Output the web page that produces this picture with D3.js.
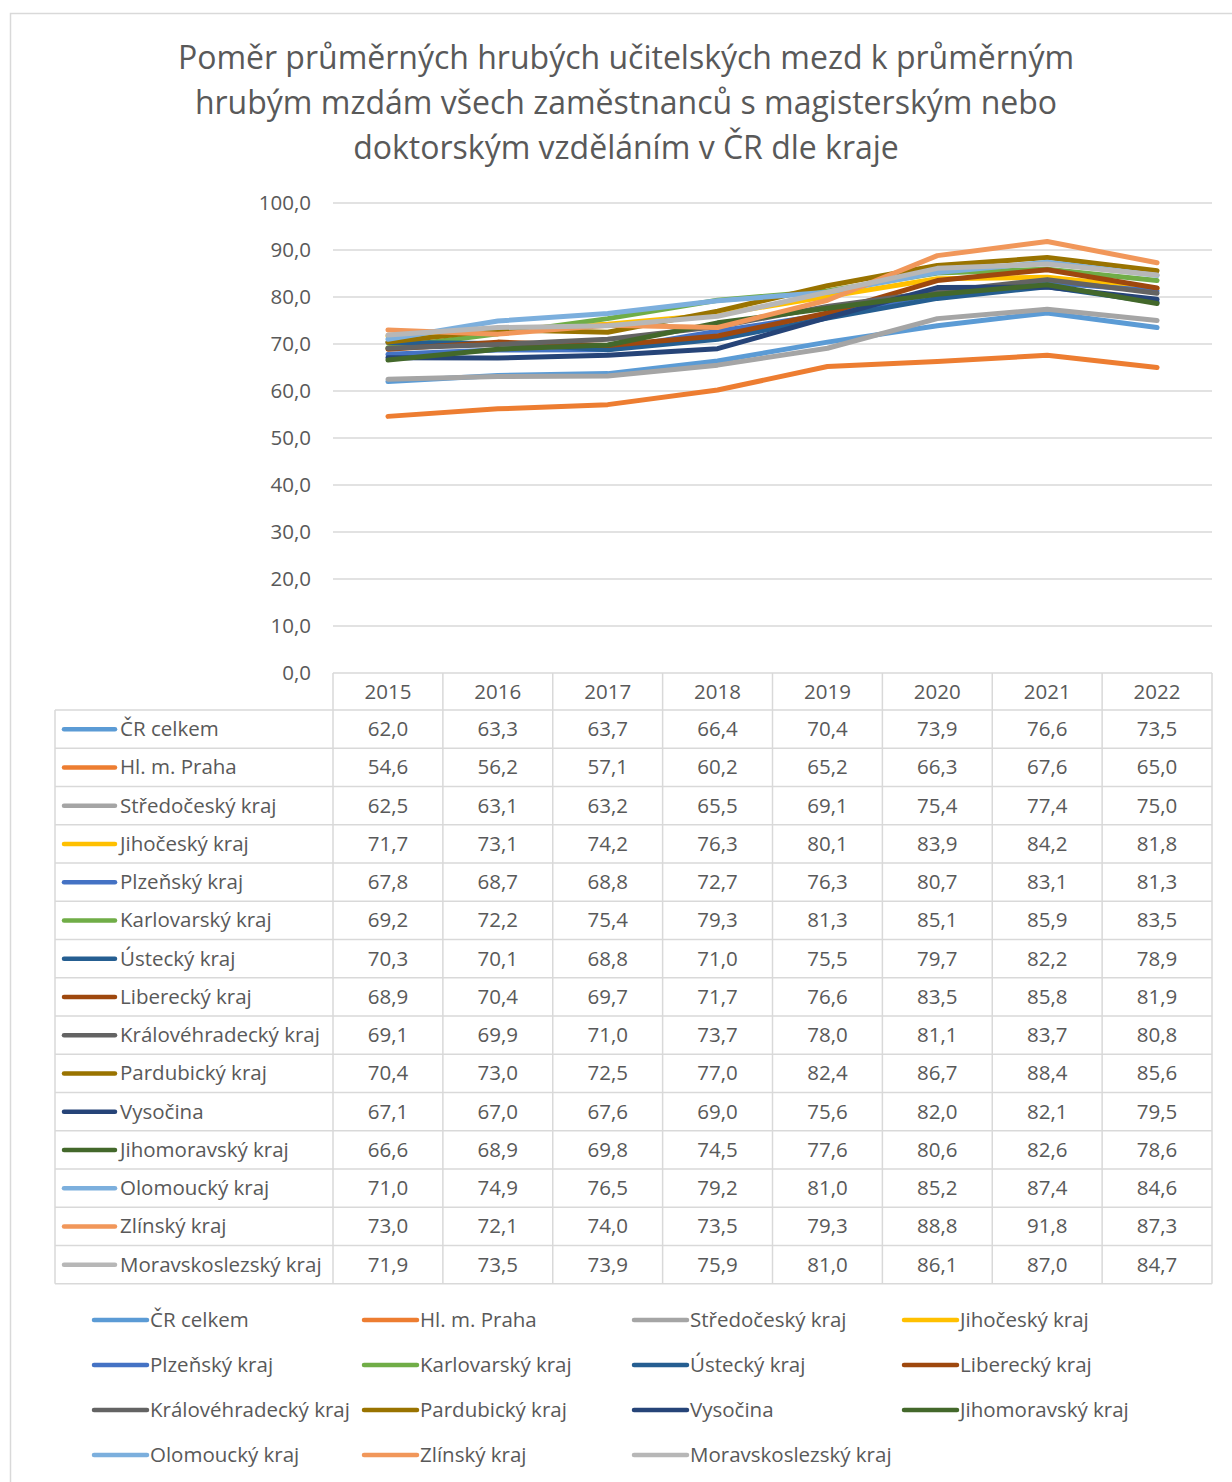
<!DOCTYPE html>
<html>
<head>
<meta charset="utf-8">
<script src="https://cdn.jsdelivr.net/npm/d3@7"></script>
<style>
  body { margin: 0; background: #fff; }
  text { font-family: "Open Sans", "Noto Sans", sans-serif; fill: #595959; }
</style>
</head>
<body>
<div id="chart"></div>
<script>
//years on the x axis
var years = ['2015', '2016', '2017', '2018', '2019', '2020', '2021', '2022'];

//series names and colours
var regions = ['ČR celkem', 'Hl. m. Praha', 'Středočeský kraj', 'Jihočeský kraj', 'Plzeňský kraj',
  'Karlovarský kraj', 'Ústecký kraj', 'Liberecký kraj', 'Královéhradecký kraj', 'Pardubický kraj',
  'Vysočina', 'Jihomoravský kraj', 'Olomoucký kraj', 'Zlínský kraj', 'Moravskoslezský kraj'];

var colors = ['#5b9bd5', '#ed7d31', '#a5a5a5', '#ffc000', '#4472c4', '#70ad47', '#255e91', '#9e480e',
  '#636363', '#997300', '#264478', '#43682b', '#7cafdd', '#f1975a', '#b7b7b7'];

//values per region, one per year
var cr = [62.0, 63.3, 63.7, 66.4, 70.4, 73.9, 76.6, 73.5];
var praha = [54.6, 56.2, 57.1, 60.2, 65.2, 66.3, 67.6, 65.0];
var stredocesky = [62.5, 63.1, 63.2, 65.5, 69.1, 75.4, 77.4, 75.0];
var jihocesky = [71.7, 73.1, 74.2, 76.3, 80.1, 83.9, 84.2, 81.8];
var plzensky = [67.8, 68.7, 68.8, 72.7, 76.3, 80.7, 83.1, 81.3];
var karlovarsky = [69.2, 72.2, 75.4, 79.3, 81.3, 85.1, 85.9, 83.5];
var ustecky = [70.3, 70.1, 68.8, 71.0, 75.5, 79.7, 82.2, 78.9];
var liberecky = [68.9, 70.4, 69.7, 71.7, 76.6, 83.5, 85.8, 81.9];
var kralovehradecky = [69.1, 69.9, 71.0, 73.7, 78.0, 81.1, 83.7, 80.8];
var pardubicky = [70.4, 73.0, 72.5, 77.0, 82.4, 86.7, 88.4, 85.6];
var vysocina = [67.1, 67.0, 67.6, 69.0, 75.6, 82.0, 82.1, 79.5];
var jihomoravsky = [66.6, 68.9, 69.8, 74.5, 77.6, 80.6, 82.6, 78.6];
var olomoucky = [71.0, 74.9, 76.5, 79.2, 81.0, 85.2, 87.4, 84.6];
var zlinsky = [73.0, 72.1, 74.0, 73.5, 79.3, 88.8, 91.8, 87.3];
var moravskoslezsky = [71.9, 73.5, 73.9, 75.9, 81.0, 86.1, 87.0, 84.7];

//y axis ticks
var yTicks = [0, 10, 20, 30, 40, 50, 60, 70, 80, 90, 100];

var allValues = [cr, praha, stredocesky, jihocesky, plzensky, karlovarsky, ustecky, liberecky,
  kralovehradecky, pardubicky, vysocina, jihomoravsky, olomoucky, zlinsky, moravskoslezsky];

var series = regions.map(function(name, i) {
  return { name: name, color: colors[i], values: allValues[i] };
});

var width = 1232;
var height = 1482;

var plotLeft = 333;
var plotRight = 1212;
var plotTop = 203;
var plotBottom = 673;

var tableLeft = 55;
var headerH = 37;
var rowH = 38.25;
var fontSize = 20.5;

var fmt = function(v) { return v.toFixed(1).replace('.', ','); };

var svg = d3.select('#chart')
  .append('svg')
  .attr('width', width)
  .attr('height', height);

//outer chart frame
svg.append('rect')
  .attr('x', 10.5).attr('y', 13.5)
  .attr('width', width + 10).attr('height', height + 10)
  .attr('fill', 'none')
  .attr('stroke', '#d9d9d9')
  .attr('stroke-width', 1.5);

//title
var titleLines = ['Poměr průměrných hrubých učitelských mezd k průměrným',
  'hrubým mzdám všech zaměstnanců s magisterským nebo',
  'doktorským vzděláním v ČR dle kraje'];

svg.append('g').selectAll('text')
  .data(titleLines)
  .enter()
  .append('text')
  .attr('x', 626)
  .attr('y', function(d, i) { return 69 + i * 45; })
  .attr('text-anchor', 'middle')
  .attr('font-size', 32)
  .text(function(d) { return d; });

//scales
var xScale = d3.scaleBand()
  .domain(years)
  .range([plotLeft, plotRight]);

var yScale = d3.scaleLinear()
  .domain([0, 100])
  .range([plotBottom, plotTop]);

//gridlines
svg.append('g')
  .selectAll('line')
  .data(yTicks.slice(1))
  .enter()
  .append('line')
  .attr('x1', plotLeft)
  .attr('x2', plotRight)
  .attr('y1', function(d) { return yScale(d); })
  .attr('y2', function(d) { return yScale(d); })
  .attr('stroke', '#d9d9d9')
  .attr('stroke-width', 1.5);

//y axis labels
var yAxis = d3.axisLeft(yScale)
  .tickValues(yTicks)
  .tickSize(0)
  .tickPadding(22)
  .tickFormat(fmt);

svg.append('g')
  .attr('transform', 'translate(' + plotLeft + ', 0)')
  .call(yAxis)
  .call(function(g) { g.select('.domain').remove(); })
  .selectAll('text')
  .attr('font-size', fontSize)
  .attr('fill', '#595959')
  .attr('font-family', '"Open Sans", sans-serif');

//lines
var line = d3.line()
  .x(function(d, i) { return xScale(years[i]) + xScale.bandwidth() / 2; })
  .y(function(d) { return yScale(d); });

svg.append('g')
  .selectAll('path')
  .data(series)
  .enter()
  .append('path')
  .attr('d', function(d) { return line(d.values); })
  .attr('fill', 'none')
  .attr('stroke', function(d) { return d.color; })
  .attr('stroke-width', 5)
  .attr('stroke-linecap', 'round')
  .attr('stroke-linejoin', 'round');

//data table
var table = svg.append('g');
var gridColor = '#d9d9d9';
var tableTop = plotBottom + headerH;
var tableBottom = tableTop + rowH * series.length;

//header row with years
table.selectAll('.yearText')
  .data(years)
  .enter()
  .append('text')
  .attr('class', 'yearText')
  .attr('x', function(d) { return xScale(d) + xScale.bandwidth() / 2; })
  .attr('y', plotBottom + headerH / 2 + 7)
  .attr('text-anchor', 'middle')
  .attr('font-size', fontSize)
  .text(function(d) { return d; });

//horizontal rules
var hLines = [{ y: plotBottom, x1: plotLeft }];
for (var r = 0; r <= series.length; r++) {
  hLines.push({ y: tableTop + r * rowH, x1: tableLeft });
}
table.selectAll('.hRule')
  .data(hLines)
  .enter()
  .append('line')
  .attr('class', 'hRule')
  .attr('x1', function(d) { return d.x1; })
  .attr('x2', plotRight)
  .attr('y1', function(d) { return d.y; })
  .attr('y2', function(d) { return d.y; })
  .attr('stroke', gridColor)
  .attr('stroke-width', 1.5);

//vertical rules
var vLines = [{ x: tableLeft, y1: tableTop }];
years.forEach(function(yr) { vLines.push({ x: xScale(yr), y1: plotBottom }); });
vLines.push({ x: plotRight, y1: plotBottom });
table.selectAll('.vRule')
  .data(vLines)
  .enter()
  .append('line')
  .attr('class', 'vRule')
  .attr('x1', function(d) { return d.x; })
  .attr('x2', function(d) { return d.x; })
  .attr('y1', function(d) { return d.y1; })
  .attr('y2', tableBottom)
  .attr('stroke', gridColor)
  .attr('stroke-width', 1.5);

//rows: legend key, name, values
var rows = table.selectAll('.row')
  .data(series)
  .enter()
  .append('g')
  .attr('class', 'row')
  .attr('transform', function(d, i) { return 'translate(0, ' + (tableTop + i * rowH + rowH / 2) + ')'; });

rows.append('line')
  .attr('x1', 64).attr('x2', 115)
  .attr('y1', 0).attr('y2', 0)
  .attr('stroke', function(d) { return d.color; })
  .attr('stroke-width', 4.5)
  .attr('stroke-linecap', 'round');

rows.append('text')
  .attr('x', 120)
  .attr('y', 7)
  .attr('font-size', fontSize)
  .text(function(d) { return d.name; });

rows.selectAll('.val')
  .data(function(d) { return d.values; })
  .enter()
  .append('text')
  .attr('class', 'val')
  .attr('x', function(d, i) { return xScale(years[i]) + xScale.bandwidth() / 2; })
  .attr('y', 7)
  .attr('text-anchor', 'middle')
  .attr('font-size', fontSize)
  .text(function(d) { return fmt(d); });

//legend at the bottom
var legend = svg.append('g');
var legItems = legend.selectAll('.legItem')
  .data(series)
  .enter()
  .append('g')
  .attr('class', 'legItem')
  .attr('transform', function(d, i) {
    return 'translate(' + (92 + (i % 4) * 270) + ', ' + (1320 + Math.floor(i / 4) * 45) + ')';
  });

legItems.append('line')
  .attr('x1', 2).attr('x2', 55)
  .attr('y1', 0).attr('y2', 0)
  .attr('stroke', function(d) { return d.color; })
  .attr('stroke-width', 4.5)
  .attr('stroke-linecap', 'round');

legItems.append('text')
  .attr('x', 58)
  .attr('y', 7)
  .attr('font-size', fontSize)
  .text(function(d) { return d.name; });
</script>
</body>
</html>
